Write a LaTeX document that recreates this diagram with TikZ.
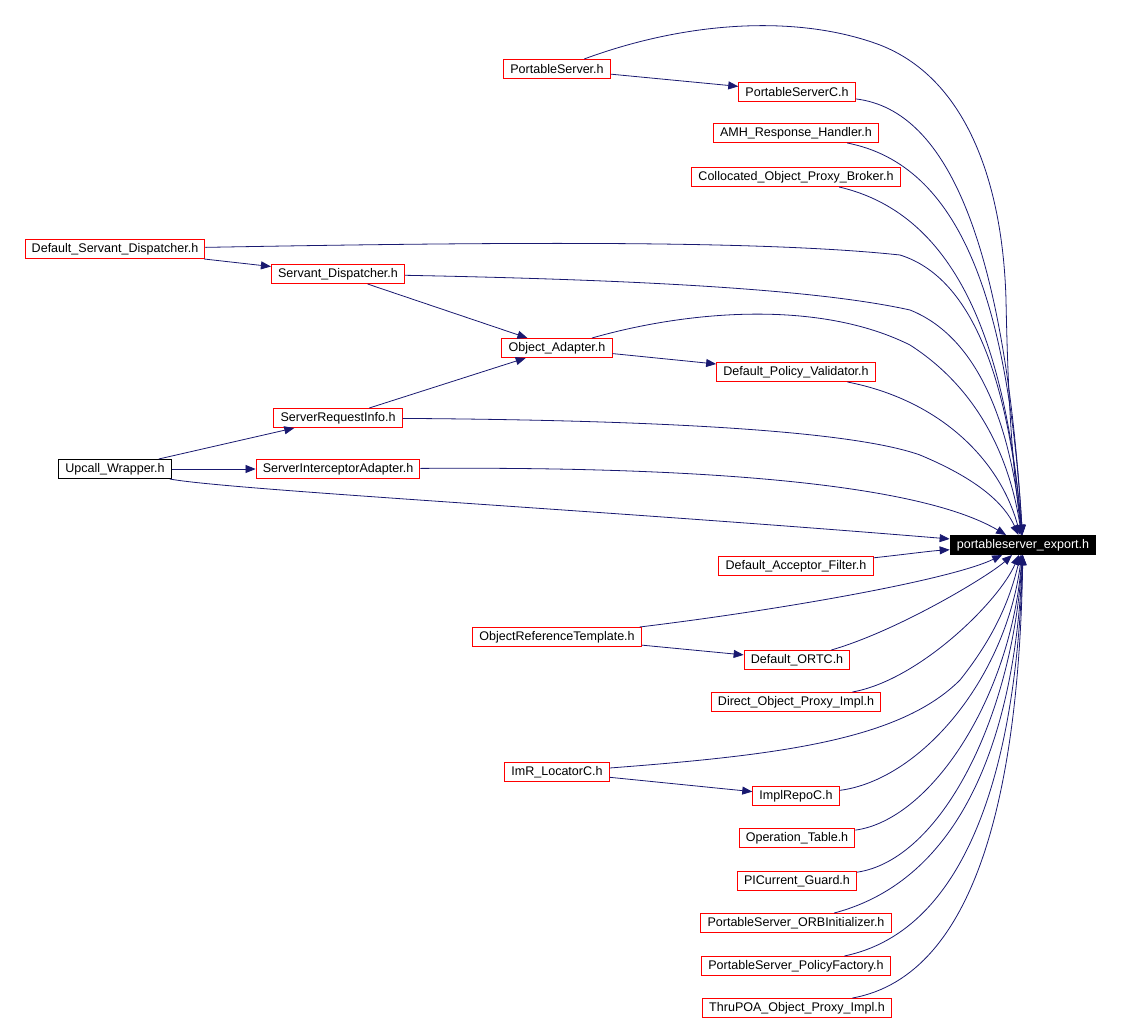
\documentclass[tikz,border=0pt]{standalone}
\usepackage{fontspec}
\setmainfont{Liberation Sans}
\usetikzlibrary{arrows.meta}
\definecolor{edgeBlue}{HTML}{191970}
\definecolor{fileRed}{HTML}{FF0000}
\newcommand{\FileFont}{\fontsize{9.4}{11}\selectfont}
\tikzset{
  file box/.style={
    draw=fileRed, line width=0.75pt, fill=white, font=\FileFont,
    inner xsep=5pt, inner ysep=0pt, minimum height=14.25pt
  },
  plain box/.style={file box, draw=black},
  root box/.style={file box, draw=black, fill=black, text=white},
  dep/.style={
    -{Triangle[length=7.5pt,width=6pt]},
    line width=0.6pt, edgeBlue
  },
}
\begin{document}
\begin{tikzpicture}[x=0.75pt,y=-0.75pt]
  \useasboundingbox (0,0) rectangle (1121,1021);

  % including files, left to right
  \node[file box] (ps)   at (557,69)   {PortableServer.h};
  \node[file box] (psc)  at (797,92)   {PortableServerC.h};
  \node[file box] (amh)  at (796,133)  {AMH\_Response\_Handler.h};
  \node[file box] (coll) at (796,177)  {Collocated\_Object\_Proxy\_Broker.h};
  \node[file box] (dsd)  at (115,249)  {Default\_Servant\_Dispatcher.h};
  \node[file box] (sd)   at (338,274)  {Servant\_Dispatcher.h};
  \node[file box] (oa)   at (557,348)  {Object\_Adapter.h};
  \node[file box] (dpv)  at (796,372)  {Default\_Policy\_Validator.h};
  \node[file box] (sri)  at (338,418)  {ServerRequestInfo.h};
  \node[plain box] (uw)  at (115,469)  {Upcall\_Wrapper.h};
  \node[file box] (sia)  at (338,469)  {ServerInterceptorAdapter.h};
  \node[file box] (daf)  at (796,566)  {Default\_Acceptor\_Filter.h};
  \node[file box] (ort)  at (557,637)  {ObjectReferenceTemplate.h};
  \node[file box] (ortc) at (797,660)  {Default\_ORTC.h};
  \node[file box] (dopi) at (796,702)  {Direct\_Object\_Proxy\_Impl.h};
  \node[file box] (imr)  at (557,772)  {ImR\_LocatorC.h};
  \node[file box] (irc)  at (796,796)  {ImplRepoC.h};
  \node[file box] (opt)  at (797,838)  {Operation\_Table.h};
  \node[file box] (pic)  at (797,881)  {PICurrent\_Guard.h};
  \node[file box] (orbi) at (796,923)  {PortableServer\_ORBInitializer.h};
  \node[file box] (pf)   at (796,966)  {PortableServer\_PolicyFactory.h};
  \node[file box] (thru) at (797,1008) {ThruPOA\_Object\_Proxy\_Impl.h};

  % included file
  \node[root box] (exp) at (1023,545) {portableserver\_export.h};

  % local includes
  \foreach \a/\b in {ps/psc,dsd/sd,sd/oa,oa/dpv,sri/oa,uw/sri,uw/sia,ort/ortc,imr/irc}
    \draw[dep] (\a) -- (\b);

  % everything into the export header
  \draw[dep] (ps) .. controls (690,20) and (800,15) .. (880,45)
    .. controls (970,80) and (1003,190) .. (1006,300)
    .. controls (1008,400) and (1012,460) .. (exp);
  \draw[dep] (psc) .. controls (950,110) and (1005,250) .. (exp);
  \draw[dep] (amh) .. controls (960,165) and (1008,300) .. (exp);
  \draw[dep] (coll) .. controls (960,215) and (1006,350) .. (exp);
  \draw[dep] (dsd) .. controls (500,242) and (760,240) .. (900,255)
    .. controls (980,280) and (1010,400) .. (exp);
  \draw[dep] (sd) .. controls (650,280) and (820,290) .. (910,310)
    .. controls (985,340) and (1012,440) .. (exp);
  \draw[dep] (oa) .. controls (690,310) and (820,300) .. (910,345)
    .. controls (980,390) and (1010,460) .. (exp);
  \draw[dep] (dpv) .. controls (940,400) and (1000,460) .. (exp);
  \draw[dep] (sri) .. controls (650,420) and (850,430) .. (920,455)
    .. controls (980,480) and (1005,505) .. (exp);
  \draw[dep] (sia) .. controls (750,466) and (930,490) .. (exp);
  \draw[dep] (uw) .. controls (230,490) and (600,510) .. (exp);
  \draw[dep] (daf) .. controls (900,555) and (930,551) .. (exp);
  \draw[dep] (ort) .. controls (780,610) and (950,580) .. (exp);
  \draw[dep] (ortc) .. controls (900,630) and (990,575) .. (exp);
  \draw[dep] (dopi) .. controls (920,680) and (1000,600) .. (exp);
  \draw[dep] (imr) .. controls (780,755) and (900,740) .. (960,680)
    .. controls (1000,630) and (1012,590) .. (exp);
  \draw[dep] (irc) .. controls (920,780) and (1005,680) .. (exp);
  \draw[dep] (opt) .. controls (930,820) and (1010,700) .. (exp);
  \draw[dep] (pic) .. controls (940,860) and (1012,720) .. (exp);
  \draw[dep] (orbi) .. controls (960,880) and (1015,740) .. (exp);
  \draw[dep] (pf) .. controls (970,930) and (1017,760) .. (exp);
  \draw[dep] (thru) .. controls (980,975) and (1019,780) .. (exp);
\end{tikzpicture}
\end{document}
